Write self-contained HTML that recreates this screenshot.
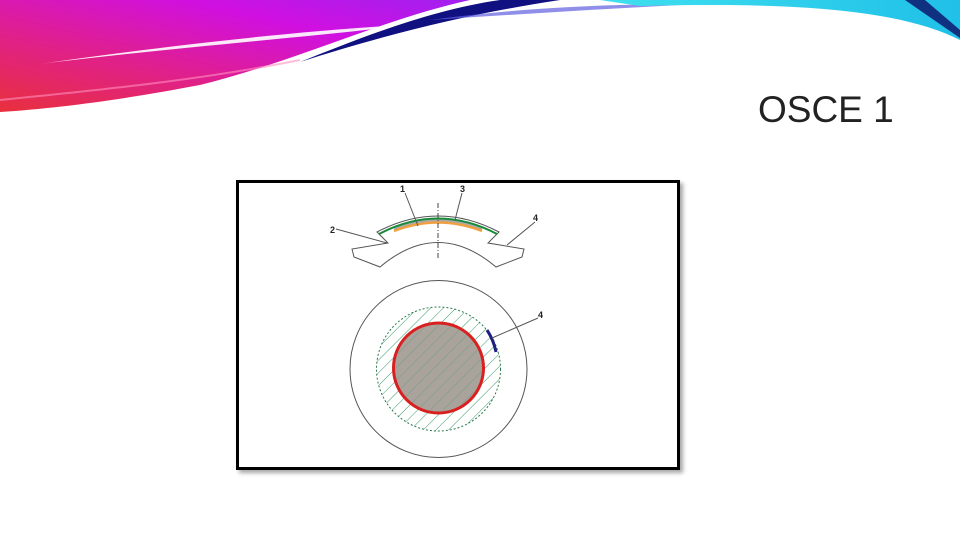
<!DOCTYPE html>
<html><head><meta charset="utf-8"><style>
html,body{margin:0;padding:0;background:#fff;width:960px;height:540px;overflow:hidden;font-family:"Liberation Sans",sans-serif}
#title{position:absolute;left:758px;top:89px;font-size:37px;font-weight:normal;color:#222;letter-spacing:0px;margin:0}
#box{position:absolute;left:236px;top:180px;width:438px;height:284px;border:3px solid #000;box-shadow:3px 3px 4px rgba(0,0,0,0.35);background:#fff}
</style></head><body>
<svg width="960" height="130" style="position:absolute;left:0;top:0">
<defs>
<linearGradient id="g1" x1="0" y1="1" x2="1" y2="0"><stop offset="0" stop-color="#e8303c"/><stop offset="0.35" stop-color="#e0208a"/><stop offset="0.7" stop-color="#d010e0"/><stop offset="1" stop-color="#a020f0"/></linearGradient>
<linearGradient id="g2" x1="0" y1="0" x2="1" y2="0"><stop offset="0" stop-color="#40e0f0"/><stop offset="1" stop-color="#20c0e8"/></linearGradient>
</defs>
<path d="M0,0 L470,0 C380,20 300,60 200,85 C120,100 60,108 0,112 Z" fill="url(#g1)"/>
<path d="M40,64 C150,50 300,38 420,24 C300,30 150,48 40,64 Z" fill="#fff" opacity="0.9"/>
<path d="M0,100 C100,90 200,80 300,60" stroke="#ff90c0" stroke-width="2" fill="none" opacity="0.6"/>
<path d="M300,62 C360,38 430,10 500,0 L560,0 C480,12 400,30 300,62 Z" fill="#101080"/>
<path d="M430,20 C520,8 600,4 700,4 C620,8 520,14 430,20 Z" fill="#6060e0" opacity="0.7"/>
<path d="M600,0 L960,0 L960,40 C900,10 800,2 640,6 Z" fill="url(#g2)"/>
<path d="M905,0 L925,0 L960,30 L960,38 Z" fill="#103080"/>
</svg>
<h1 id="title">OSCE 1</h1>
<div id="box"></div>
<svg width="960" height="540" style="position:absolute;left:0;top:0">
<g fill="none" stroke="#555" stroke-width="1">
<path d="M377,232 Q438,200 499,232 L488,243 L524,249 L522,257 L496,267 Q438,218 380,267 L354,257 L352,249 L388,243 Z" fill="#fff"/>
<path d="M394,228 Q438,208 482,228 L482,231 Q438,214 394,231 Z" fill="#aaa" stroke="none"/>
<path d="M379,234 Q438,203 497,234" stroke="#1a8a3a" stroke-width="2"/>
<path d="M394,231 Q438,214 482,231" stroke="#f0a040" stroke-width="2.5"/>
<line x1="438" y1="203" x2="438" y2="260" stroke="#444" stroke-dasharray="5,2,1,2"/>
<line x1="336" y1="229" x2="387" y2="243" />
<line x1="405" y1="193" x2="418" y2="226" />
<line x1="462" y1="193" x2="455" y2="220" />
<line x1="535" y1="222" x2="507" y2="245" />
</g>
<g font-size="9" font-weight="bold" fill="#222">
<text x="400" y="192">1</text>
<text x="330" y="233">2</text>
<text x="460" y="192">3</text>
<text x="533" y="221">4</text>
<text x="538" y="318">4</text>
</g>
<defs><pattern id="hatch" width="9" height="9" patternUnits="userSpaceOnUse" patternTransform="rotate(45)"><line x1="0" y1="0" x2="0" y2="9" stroke="#3a9a6a" stroke-width="1"/></pattern></defs>
<circle cx="438.5" cy="369" r="88.5" fill="#fff" stroke="#555" stroke-width="1"/>
<circle cx="438.5" cy="369" r="62" fill="url(#hatch)" stroke="#2a7a4a" stroke-dasharray="2,2"/>
<circle cx="438.5" cy="368" r="45" fill="#a9a39c" stroke="#d82020" stroke-width="3"/>
<circle cx="438.5" cy="368" r="43" fill="url(#hatch)" opacity="0.5"/>
<path d="M487,330 A62,62 0 0 1 496,352" stroke="#202080" stroke-width="3" fill="none"/>
<line x1="492" y1="338" x2="538" y2="318" stroke="#555"/>
</svg>
</body></html>
